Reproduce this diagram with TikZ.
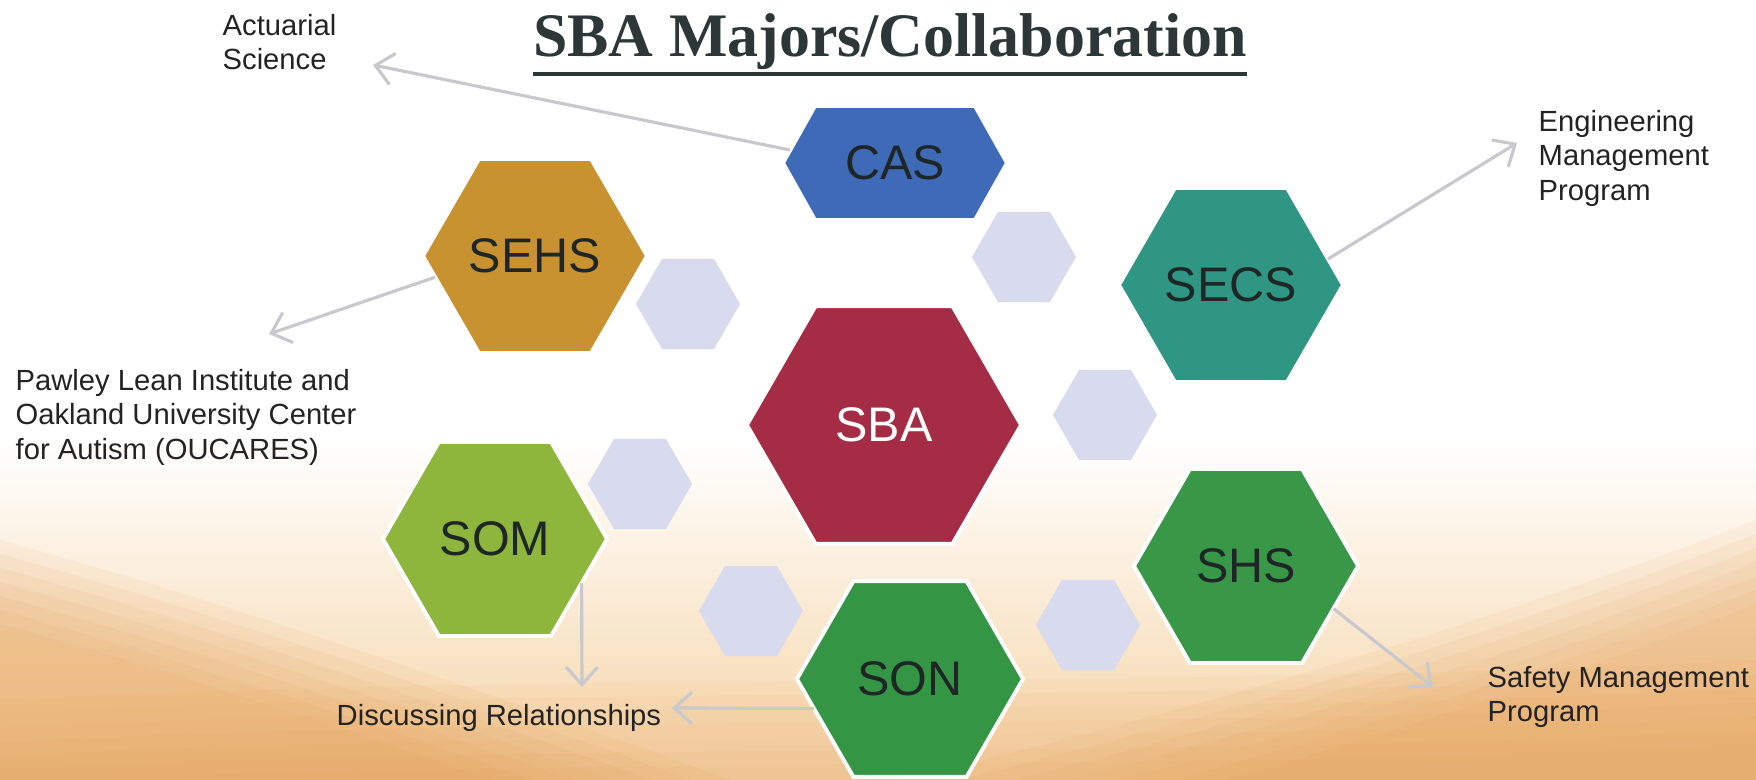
\documentclass[tikz,border=0pt]{standalone}
\usepackage{fontspec}
\setmainfont{Liberation Sans}
\newfontfamily\titlefont{Liberation Serif}
\usetikzlibrary{shapes.geometric,arrows.meta}

\definecolor{casblue}{RGB}{62,106,184}
\definecolor{sehsgold}{RGB}{201,146,48}
\definecolor{secsteal}{RGB}{46,150,130}
\definecolor{sbared}{RGB}{164,44,68}
\definecolor{somgreen}{RGB}{142,181,60}
\definecolor{shsgreen}{RGB}{56,152,72}
\definecolor{songreen}{RGB}{52,150,68}
\definecolor{lilac}{RGB}{216,218,238}
\definecolor{hextext}{RGB}{30,38,38}
\definecolor{lbltext}{RGB}{35,35,35}
\definecolor{titlegray}{RGB}{45,55,55}
\definecolor{arrowgray}{RGB}{200,200,206}
\definecolor{bgpeach}{RGB}{247,222,186}
\definecolor{bgorange}{RGB}{228,150,70}

\begin{document}
\begin{tikzpicture}[
        x=0.01cm, y=-0.01cm,
        hexa/.style={regular polygon, regular polygon sides=6, draw=white,
                     line width=1.1pt, inner sep=0pt, outer sep=0pt, text=hextext,
                     font=\fontsize{13.8pt}{16pt}\selectfont},
        minihex/.style={regular polygon, regular polygon sides=6, fill=lilac,
                        minimum size=1.04cm, inner sep=0pt},
        lbl/.style={font=\fontsize{8.3pt}{9.7pt}\selectfont, align=left,
                    anchor=north west, inner sep=0pt, text=lbltext},
        link/.style={draw=arrowgray, line width=0.9pt,
                     -{Straight Barb[length=5pt,width=9pt]}}]

    \useasboundingbox (0,0) rectangle (1756,780);

    % --- Fondo: blanco arriba, naranja difuso abajo
    \fill[white] (0,0) rectangle (1756,780);
    \shade[top color=white, bottom color=bgpeach] (0,440) rectangle (1756,700);
    \fill[bgpeach] (0,699) rectangle (1756,780);
    \foreach \d in {0,14,...,84} {
        \fill[bgorange, opacity=0.08] (0,{540+\d}) .. controls (220,{600+\d}) and (450,{680+\d}) .. (760,{790+\d})
            -- (0,880) -- cycle;
        \fill[bgorange, opacity=0.07] (1756,{520+\d}) .. controls (1500,{620+\d}) and (1200,{710+\d}) .. (860,{790+\d})
            -- (1756,880) -- cycle;
        \fill[bgorange, opacity=0.05] (0,{700+\d}) .. controls (600,{670+\d}) and (1200,{690+\d}) .. (1756,{660+\d})
            -- (1756,880) -- (0,880) -- cycle;
    }

    % --- Titulo
    \node[font=\titlefont\bfseries\fontsize{17.6pt}{20pt}\selectfont, text=titlegray,
          anchor=base, inner sep=0pt] (title) at (890,57) {SBA Majors/Collaboration};
    \draw[titlegray, line width=1.15pt] ([yshift=-0.03cm]title.south west)
        -- ([yshift=-0.03cm]title.south east);

    % --- Hexagonos de relleno
    \foreach \n/\x/\y in {1/688/304, 2/1024/257, 3/1105/415, 4/640/484, 5/751/611, 6/1088/625}
        \node[minihex] (gap\n) at (\x,\y) {};

    % --- Escuelas
    \node[hexa, fill=sbared, minimum size=2.74cm, text=white] (sba) at (884,425) {SBA};
    \fill[casblue, draw=white, line width=1.1pt]
        (783,163) -- (815,106) -- (975,106) -- (1007,163) -- (975,220) -- (815,220) -- cycle;
    \node[text=hextext, font=\fontsize{13.8pt}{16pt}\selectfont, inner sep=0pt] (cas) at (895,163) {CAS};
    \node[hexa, fill=sehsgold, minimum size=2.24cm] (sehs) at (535,256) {SEHS};
    \node[hexa, fill=secsteal, minimum size=2.24cm] (secs) at (1231,285) {SECS};
    \node[hexa, fill=somgreen, minimum size=2.24cm] (som) at (495,539) {SOM};
    \node[hexa, fill=shsgreen, minimum size=2.24cm] (shs) at (1246,566) {SHS};
    \node[hexa, fill=songreen, minimum size=2.26cm] (son) at (910,679) {SON};

    % --- Colaboraciones
    \node[lbl] (actuarial) at (222,14) {Actuarial\\Science};
    \node[lbl] (engmgmt) at (1538,110) {Engineering\\Management\\Program};
    \node[lbl] (pawley) at (15,369) {Pawley Lean Institute and\\Oakland University Center\\for Autism (OUCARES)};
    \node[lbl] (discuss) at (336,704) {Discussing Relationships};
    \node[lbl] (safety) at (1487,666) {Safety Management\\Program};

    \coordinate (casEdge) at (790,150);
    \coordinate (actTip) at (373,65);
    \coordinate (pawTip) at (269,334);
    \coordinate (engTip) at (1517,143);
    \coordinate (somTip) at (582,687);
    \coordinate (sonTip) at (672,708);
    \coordinate (safTip) at (1433,687);

    \draw[link] (casEdge) -- (actTip);
    \draw[link] (sehs.192) -- (pawTip);
    \draw[link] (secs.15) -- (engTip);
    \draw[link] (som.333) -- (somTip);
    \draw[link] (son.197) -- (sonTip);
    \draw[link] (shs.334) -- (safTip);

\end{tikzpicture}
\end{document}
